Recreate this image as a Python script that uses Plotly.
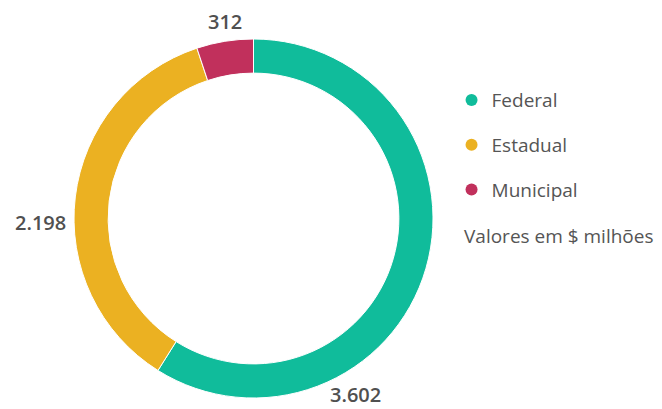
import plotly.graph_objects as go

categories = ["Federal", "Estadual", "Municipal"]
values = [3602, 2198, 312]
colors = ["#10BC9B", "#EBB122", "#C1305C"]
note = "Valores em $ milhões"

# layout-only: where each value label sits (paper fractions)
label_pos = [(0.5242, 0.0545), (0.0498, 0.4756), (0.3278, 0.9675)]

W, H = 662, 409
font_family = "'Open Sans', 'Noto Sans', sans-serif"
text_col = "#555555"

fig = go.Figure()
fig.add_trace(go.Pie(
    labels=categories, values=values, hole=0.81, sort=False,
    direction="clockwise", rotation=0,
    marker=dict(colors=colors, line=dict(color="white", width=1)),
    textinfo="none", automargin=False,
    showlegend=False, hoverinfo="label+value",
    domain=dict(x=[0.0, 0.7417], y=[0.04645, 0.9242]),
))
for cat, col in zip(categories, colors):
    fig.add_trace(go.Scatter(
        x=[None], y=[None], mode="markers", name=cat, legendgroup=cat,
        marker=dict(color=col, size=12, symbol="circle"),
    ))

annotations = []
for v, (px, py) in zip(values, label_pos):
    annotations.append(dict(
        text=f"{v:,}".replace(",", "."), x=px, y=py, xref="paper", yref="paper",
        xanchor="center", yanchor="middle", showarrow=False, borderpad=0,
        font=dict(size=20, color="#505050", family=font_family, weight=600)))
annotations.append(dict(
    text=note, x=0.687, y=0.4425, xref="paper", yref="paper",
    xanchor="left", yanchor="middle", showarrow=False, borderpad=0,
    font=dict(size=19, color=text_col, family=font_family)))

fig.update_layout(
    width=W, height=H, autosize=False,
    margin=dict(l=0, r=0, t=0, b=0, autoexpand=False),
    paper_bgcolor="white", plot_bgcolor="white",
    font=dict(family=font_family, color=text_col),
    xaxis=dict(visible=False), yaxis=dict(visible=False),
    legend=dict(x=0.670, y=0.821, xanchor="left", yanchor="top",
                font=dict(size=19, color=text_col, family=font_family),
                tracegroupgap=17, itemwidth=30, bgcolor="rgba(0,0,0,0)"),
    annotations=annotations,
)
fig.write_html("out.html")
